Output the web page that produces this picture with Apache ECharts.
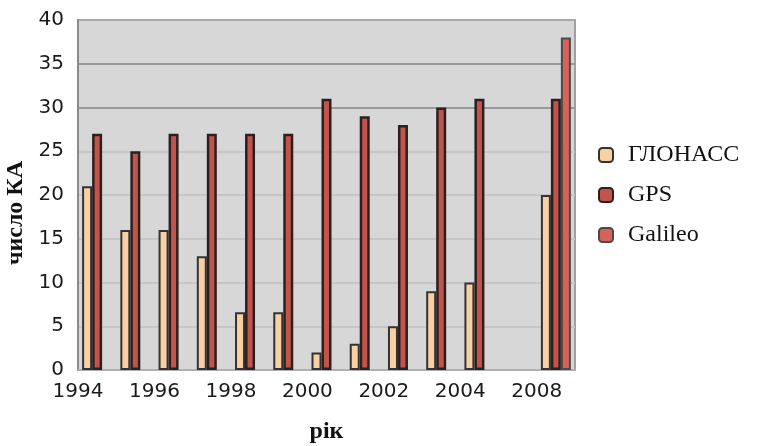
<!DOCTYPE html>
<html>
<head>
<meta charset="utf-8">
<script src="https://cdn.jsdelivr.net/npm/echarts@6/dist/echarts.min.js"></script>
<style>
  html, body { margin: 0; padding: 0; background: #fff; }
  #chart { width: 762px; height: 446px; }
</style>
</head>
<body>
<div id="chart"></div>
<script>
// роки (групи стовпчиків)
var years = ['1994', '1995', '1996', '1997', '1998', '1999', '2000', '2001', '2002', '2003', '2004', '2006', '2008'];
// підписи на межах категорій
var yearTicks = ['1994', '', '1996', '', '1998', '', '2000', '', '2002', '', '2004', '', '2008', ''];
var glonass = [21, 16, 16, 13, 6.6, 6.6, 2, 3, 5, 9, 10, null, 20];
var gps = [27, 25, 27, 27, 27, 27, 31, 29, 28, 30, 31, null, 31];
var galileo = [null, null, null, null, null, null, null, null, null, null, null, null, 38];

var chart = echarts.init(document.getElementById('chart'));
chart.setOption({
  animation: false,
  grid: {
    left: 78, right: 187, top: 20, bottom: 76,
    outerBoundsMode: 'none',
    show: true,
    backgroundColor: '#d7d7d7',
    borderColor: '#a0a0a0',
    borderWidth: 2
  },
  legend: {
    orient: 'vertical',
    left: 593,
    top: 138,
    itemWidth: 14,
    itemHeight: 14,
    itemGap: 16,
    textStyle: { fontFamily: 'Liberation Serif', fontSize: 24, color: '#111', padding: [0, 0, 0, 10] },
    data: ['ГЛОНАСС', 'GPS', 'Galileo']
  },
  xAxis: [
    {
      type: 'category',
      data: years,
      axisLine: { show: true, lineStyle: { color: '#b0b0b0', width: 2 } },
      axisTick: { show: false },
      axisLabel: { show: false }
    },
    {
      type: 'category',
      position: 'bottom',
      boundaryGap: false,
      data: yearTicks,
      axisLine: { show: false },
      axisTick: { show: false },
      axisLabel: { interval: 0, margin: 12, fontFamily: 'DejaVu Sans', fontSize: 20, color: '#1a1a1a' },
      name: 'рік',
      nameLocation: 'middle',
      nameGap: 50,
      nameTextStyle: { fontFamily: 'Liberation Serif', fontWeight: 'bold', fontSize: 24, color: '#111' }
    }
  ],
  yAxis: {
    type: 'value',
    min: 0,
    max: 40,
    interval: 5,
    name: 'число КА',
    nameLocation: 'middle',
    nameGap: 48,
    nameTextStyle: { fontFamily: 'Liberation Serif', fontWeight: 'bold', fontSize: 24, color: '#111', padding: [0, 36, 0, 0] },
    axisLine: { show: true, lineStyle: { color: '#8a8a8a', width: 2 } },
    axisTick: { show: false },
    axisLabel: { margin: 14, fontFamily: 'DejaVu Sans', fontSize: 20, color: '#1a1a1a' },
    splitLine: {
      lineStyle: {
        color: ['#b8b8b8', '#c6c6c6', '#c6c6c6', '#c6c6c6', '#c6c6c6', '#c6c6c6', '#999999', '#999999', '#a8a8a8'],
        width: 2
      }
    }
  },
  series: [
    {
      name: 'ГЛОНАСС',
      type: 'bar',
      data: glonass,
      barWidth: 10,
      barGap: '0%',
      itemStyle: { color: '#f9cfa4', borderColor: '#333', borderWidth: 2 }
    },
    {
      name: 'GPS',
      type: 'bar',
      data: gps,
      barWidth: 10,
      barGap: '0%',
      itemStyle: { color: '#c3544c', borderColor: '#2b2020', borderWidth: 2.5 }
    },
    {
      name: 'Galileo',
      type: 'bar',
      data: galileo,
      barWidth: 10,
      barGap: '0%',
      itemStyle: { color: '#d8625a', borderColor: '#4a4a4a', borderWidth: 2 }
    }
  ]
});
</script>
</body>
</html>
